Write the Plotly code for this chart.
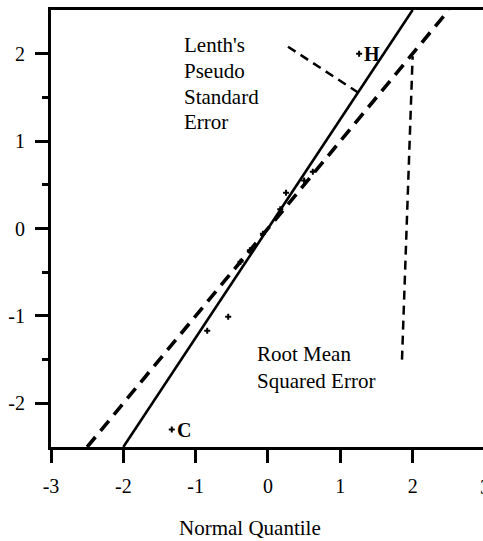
import numpy as np
import plotly.graph_objects as go

# Normal quantile vs. standardized effect
quantiles = [-1.33, -0.84, -0.55, -0.38, -0.25, -0.07, 0.17, 0.25, 0.50, 0.62, 1.26]
effects = [-2.30, -1.17, -1.01, -0.38, -0.25, -0.06, 0.22, 0.41, 0.55, 0.65, 2.00]
point_labels = ["C", "", "", "", "", "", "", "", "", "", "H"]

# Reference-line slopes (scale estimates)
lenth_pse_slope = 1.25
rmse_slope = 1.0

x_ticks = [-3, -2, -1, 0, 1, 2, 3]
y_ticks = [-2, -1, 0, 1, 2]
y_minor = [-1.5, -0.5, 0.5, 1.5]

FONT = "Liberation Serif, Times New Roman, serif"
Y_LIM = 2.5
X_LO, X_HI = -3, 2.973

fig = go.Figure()

# Reference lines spanning the vertical range
ys = np.array([-Y_LIM, Y_LIM])
fig.add_trace(go.Scatter(x=ys / lenth_pse_slope, y=ys, mode="lines",
                         line=dict(color="black", width=2.6), hoverinfo="skip"))
fig.add_trace(go.Scatter(x=ys / rmse_slope, y=ys, mode="lines",
                         line=dict(color="black", width=3.6, dash="13px,8px"),
                         hoverinfo="skip"))

fig.add_trace(go.Scatter(x=quantiles, y=effects, mode="markers",
                         marker=dict(symbol="cross", size=5, color="black"),
                         hoverinfo="skip"))

# Point labels
for qx, ey, lab in zip(quantiles, effects, point_labels):
    if lab:
        fig.add_annotation(x=qx, y=ey, text=f"<b>{lab}</b>", showarrow=False,
                           xanchor="left", yanchor="middle", xshift=3,
                           font=dict(family=FONT, size=20, color="black"))

# Leader lines from the captions to their reference lines
lenth_x = 1.245
rmse_x = 2.0
leaders = [
    dict(x0=0.277, y0=2.08, x1=lenth_x, y1=lenth_x * lenth_pse_slope),
    dict(x0=1.853, y0=-1.50, x1=rmse_x, y1=rmse_x * rmse_slope - 0.03),
]
for ld in leaders:
    fig.add_shape(type="line", xref="x", yref="y", **ld,
                  line=dict(color="black", width=2.5, dash="9px,6px"))

# Captions
lenth_lines = ["Lenth's", "Pseudo", "Standard", "Error"]
lenth_y = [2.105, 1.80, 1.51, 1.224]
for txt, yy in zip(lenth_lines, lenth_y):
    fig.add_annotation(x=-1.19, y=yy, text=txt, showarrow=False,
                       xanchor="left", yanchor="middle",
                       font=dict(family=FONT, size=21, color="black"))
rmse_lines = ["Root Mean", "Squared Error"]
rmse_y = [-1.44, -1.74]
for txt, yy in zip(rmse_lines, rmse_y):
    fig.add_annotation(x=-0.18, y=yy, text=txt, showarrow=False,
                       xanchor="left", yanchor="middle",
                       font=dict(family=FONT, size=21, color="black"))

# Last x tick label sits just past the plot edge (paper x slightly > 1)
x_span = X_HI - X_LO
fig.add_annotation(x=(x_ticks[-1] - X_LO) / x_span, y=0, xref="paper", yref="paper",
                   text=str(x_ticks[-1]), showarrow=False,
                   xanchor="center", yanchor="top", yshift=-27,
                   font=dict(family=FONT, size=20, color="black"))

# Axis title
fig.add_annotation(x=0.461, y=-0.185, xref="paper", yref="paper",
                   text="Normal Quantile", showarrow=False,
                   xanchor="center", yanchor="middle",
                   font=dict(family=FONT, size=21, color="black"))

fig.update_xaxes(range=[X_LO, X_HI], tickvals=x_ticks[:-1],
                 ticktext=[str(v) for v in x_ticks[:-1]],
                 ticks="outside", ticklen=13, tickwidth=3, tickcolor="black",
                 showline=True, linewidth=3, linecolor="black", mirror=True,
                 showgrid=False, zeroline=False, ticklabelstandoff=6,
                 tickfont=dict(family=FONT, size=20, color="black"))
fig.update_yaxes(range=[-Y_LIM, Y_LIM], tickvals=y_ticks,
                 ticktext=[str(v) for v in y_ticks],
                 ticks="outside", ticklen=13, tickwidth=3, tickcolor="black",
                 minor=dict(tickvals=y_minor, ticks="outside", ticklen=6,
                            tickwidth=3, tickcolor="black", showgrid=False),
                 showline=True, linewidth=3, linecolor="black", mirror=False,
                 showgrid=False, zeroline=False, ticklabelstandoff=6,
                 tickfont=dict(family=FONT, size=20, color="black"))

fig.update_layout(width=483, height=541, showlegend=False,
                  margin=dict(l=51, r=0, t=10, b=94),
                  paper_bgcolor="white", plot_bgcolor="white")

fig.write_html("out.html")
